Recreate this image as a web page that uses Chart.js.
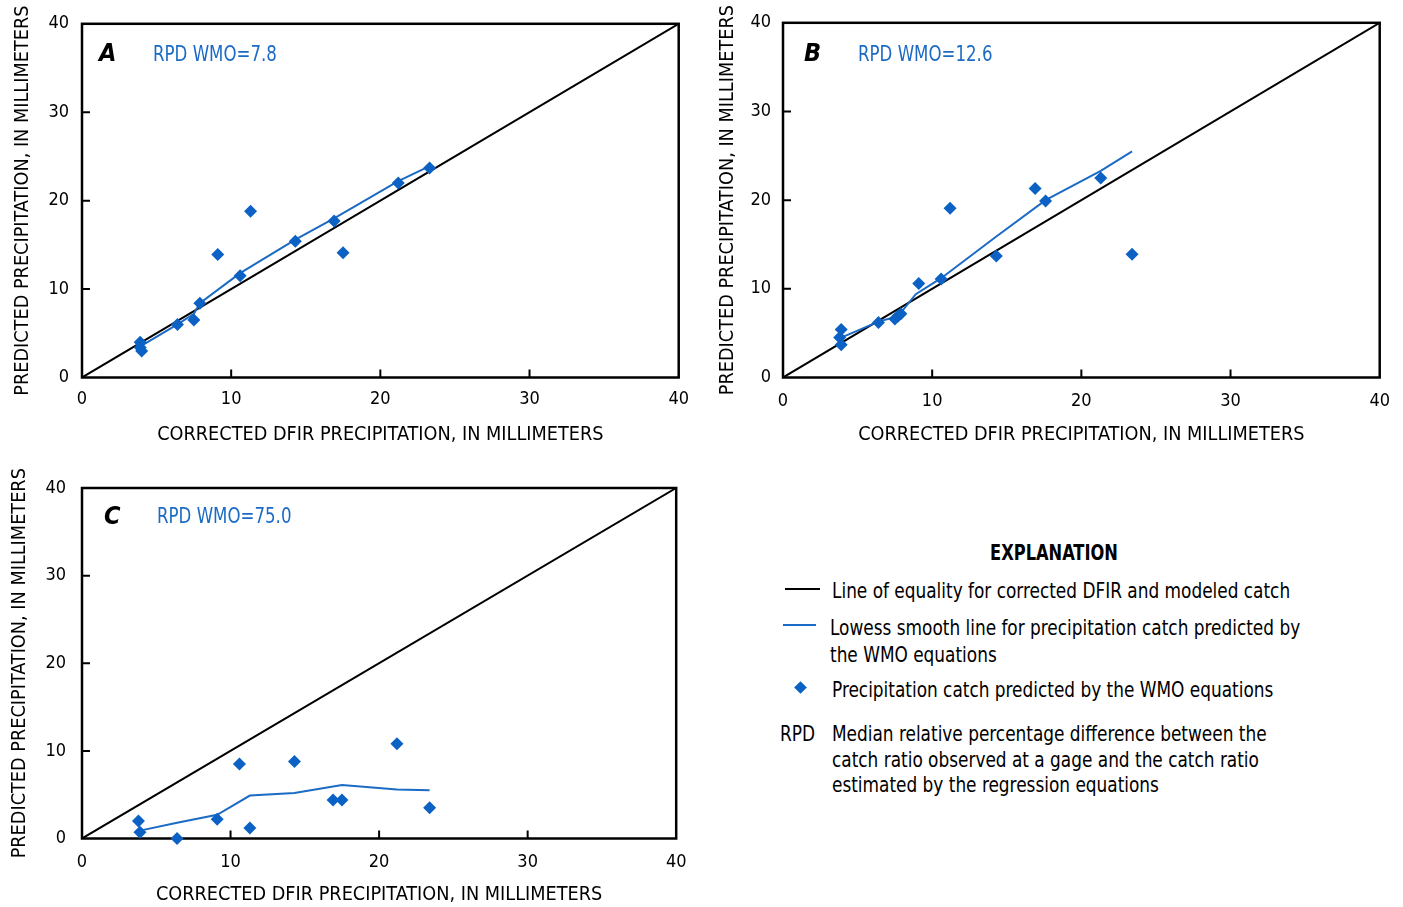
<!DOCTYPE html>
<html>
<head>
<meta charset="utf-8">
<script src="https://cdn.jsdelivr.net/npm/chart.js@4.4.1/dist/chart.umd.min.js"></script>
<style>
  body { margin: 0; background: #fff; }
  #page { position: relative; width: 1403px; height: 907px; overflow: hidden;
          font-family: 'DejaVu Sans Condensed', 'DejaVu Sans', sans-serif; color: #000; }
  canvas { position: absolute; }
  .abs { position: absolute; white-space: nowrap; }
  .sq { transform-origin: 0 50%; }
  .letter { font-size: 25px; font-weight: bold; font-style: italic; line-height: 30px; }
  .rpd { font-size: 21px; color: #1b6bc4; line-height: 26px; transform: scaleX(0.88); }
  .expl { font-size: 21px; transform: scaleX(0.896); }
</style>
</head>
<body>
<div id="page">
  <canvas id="chartA" width="700" height="460" style="left:0;top:0"></canvas>
  <canvas id="chartB" width="701" height="460" style="left:702px;top:0"></canvas>
  <canvas id="chartC" width="700" height="455" style="left:0;top:460px"></canvas>

  <div class="abs letter" style="left:99px;top:38px">A</div>
  <div class="abs rpd sq" style="left:153px;top:41px">RPD WMO=7.8</div>
  <div class="abs letter" style="left:804px;top:38px">B</div>
  <div class="abs rpd sq" style="left:858px;top:41px">RPD WMO=12.6</div>
  <div class="abs letter" style="left:104px;top:501px">C</div>
  <div class="abs rpd sq" style="left:157px;top:503px">RPD WMO=75.0</div>

  <!-- explanation -->
  <div class="abs" style="left:954px;top:540px;width:200px;text-align:center;font-size:21px;font-weight:bold;line-height:26px;transform:scaleX(0.86)">EXPLANATION</div>
  <div class="abs" style="left:785px;top:588px;width:35px;height:2px;background:#000"></div>
  <div class="abs expl sq" style="left:832px;top:578px;line-height:26px">Line of equality for corrected DFIR and modeled catch</div>
  <div class="abs" style="left:783px;top:624px;width:33px;height:2px;background:#1b6bc4"></div>
  <div class="abs expl sq" style="left:830px;top:615px;line-height:27px;transform-origin:0 0">Lowess smooth line for precipitation catch predicted by<br>the WMO equations</div>
  <div class="abs" style="left:796px;top:683px;width:9px;height:9px;background:#0b62c4;transform:rotate(45deg)"></div>
  <div class="abs expl sq" style="left:832px;top:677px;line-height:26px">Precipitation catch predicted by the WMO equations</div>
  <div class="abs expl sq" style="left:780px;top:721px;line-height:26px">RPD</div>
  <div class="abs expl sq" style="left:832px;top:722px;line-height:25.5px;transform-origin:0 0">Median relative percentage difference between the<br>catch ratio observed at a gage and the catch ratio<br>estimated by the regression equations</div>
</div>

<script>
// axis ticks (both axes, all panels)
const tickValues = [0, 10, 20, 30, 40];
const equalityLine = [0, 40];

// panel A - measured points
const pointsA_x = [3.9, 4.0, 3.9, 6.4, 7.5, 7.9, 9.1, 10.6, 11.3, 14.3, 16.9, 17.5, 21.2, 23.3];
const pointsA_y = [4.0, 3.0, 3.4, 6.0, 6.5, 8.4, 13.9, 11.5, 18.8, 15.4, 17.7, 14.1, 22.0, 23.7];
const lowessA_x = [3.8, 6.4, 7.5, 7.9, 10.6, 14.3, 16.9, 21.2, 23.3];
const lowessA_y = [3.4, 6.0, 7.2, 8.4, 11.8, 15.6, 18.0, 22.2, 23.9];

// panel B
const pointsB_x = [3.9, 3.8, 3.9, 6.4, 7.5, 7.7, 7.9, 9.1, 10.6, 11.2, 14.3, 16.9, 17.6, 21.3, 23.4];
const pointsB_y = [5.4, 4.5, 3.7, 6.2, 6.6, 6.9, 7.2, 10.6, 11.1, 19.1, 13.7, 21.3, 19.9, 22.5, 13.9];
const lowessB_x = [3.9, 6.4, 7.7, 8.9, 10.6, 14.3, 17.6, 21.3, 23.4];
const lowessB_y = [4.5, 6.3, 6.9, 9.4, 11.2, 15.9, 20.0, 23.3, 25.5];

// panel C
const pointsC_x = [3.8, 3.9, 6.4, 9.1, 10.6, 11.3, 14.3, 16.9, 17.5, 21.2, 23.4];
const pointsC_y = [2.0, 0.7, 0.0, 2.2, 8.5, 1.2, 8.8, 4.4, 4.4, 10.8, 3.5];
const lowessC_x = [3.9, 6.4, 9.1, 11.3, 14.3, 17.5, 21.2, 23.4];
const lowessC_y = [0.9, 1.8, 2.7, 4.9, 5.2, 6.1, 5.6, 5.5];

const BLUE = '#0b62c4';
const LINE_BLUE = '#1b6bc4';
const yTitle = 'PREDICTED PRECIPITATION, IN MILLIMETERS';
const xTitle = 'CORRECTED DFIR PRECIPITATION, IN MILLIMETERS';

Chart.defaults.font.family = "'DejaVu Sans Condensed', 'DejaVu Sans', sans-serif";
Chart.defaults.color = '#000';

// box around the plot + short inward ticks
const framePlugin = {
  id: 'frame',
  beforeDatasetsDraw(chart) {
    const {ctx, chartArea: a, scales} = chart;
    ctx.save();
    ctx.strokeStyle = '#000';
    ctx.lineWidth = 2.5;
    ctx.strokeRect(a.left, a.top, a.right - a.left, a.bottom - a.top);
    ctx.lineWidth = 2;
    ctx.beginPath();
    scales.x.ticks.forEach(t => {
      if (t.value <= 0 || t.value >= 40) return;
      const px = scales.x.getPixelForValue(t.value);
      ctx.moveTo(px, a.bottom);
      ctx.lineTo(px, a.bottom - 8);
    });
    scales.y.ticks.forEach(t => {
      if (t.value <= 0 || t.value >= 40) return;
      const py = scales.y.getPixelForValue(t.value);
      ctx.moveTo(a.left, py);
      ctx.lineTo(a.left + 8, py);
    });
    ctx.stroke();
    ctx.restore();
  }
};

function makePanel(id, g, px, py, lx, ly) {
  const pts = px.map((x, i) => ({x: x, y: py[i]}));
  const low = lx.map((x, i) => ({x: x, y: ly[i]}));
  const eq = equalityLine.map(v => ({x: v, y: v}));
  return new Chart(document.getElementById(id), {
    type: 'scatter',
    data: {
      datasets: [
        { data: pts, pointStyle: 'rectRot', pointRadius: 6.5, backgroundColor: BLUE, borderWidth: 0, order: 0, clip: 10 },
        { data: low, showLine: true, borderColor: LINE_BLUE, borderWidth: 2, pointRadius: 0, order: 1 },
        { data: eq, showLine: true, borderColor: '#000', borderWidth: 2, pointRadius: 0, order: 2 }
      ]
    },
    options: {
      responsive: false,
      animation: false,
      devicePixelRatio: 1,
      layout: { padding: g.pad },
      plugins: { legend: { display: false }, tooltip: { enabled: false } },
      scales: {
        x: {
          type: 'linear', min: 0, max: 40,
          afterBuildTicks: s => { s.ticks = tickValues.map(v => ({value: v})); },
          afterFit: s => { s.height = g.xh; },
          grid: { display: false, drawTicks: false, tickLength: 0 },
          border: { display: false },
          ticks: { font: { size: 18 }, padding: g.xTickPad, maxRotation: 0 },
          title: { display: true, text: xTitle, font: { size: 19.7 }, padding: { top: 0, bottom: g.xTitlePad } }
        },
        y: {
          type: 'linear', min: 0, max: 40,
          afterBuildTicks: s => { s.ticks = tickValues.map(v => ({value: v})); },
          afterFit: s => { s.width = g.yw; },
          grid: { display: false, drawTicks: false, tickLength: 0 },
          border: { display: false },
          ticks: { font: { size: 18 }, padding: g.yTickPad },
          title: { display: true, text: yTitle, font: { size: 19.7 }, padding: { top: g.yTitlePad, bottom: 0 } }
        }
      }
    },
    plugins: [framePlugin]
  });
}

makePanel('chartA', { pad: {top: 22, right: 21, bottom: 0, left: 0}, yw: 82, xh: 82.5,
  xTickPad: 11, yTickPad: 13, xTitlePad: 12.8, yTitlePad: 11 },
  pointsA_x, pointsA_y, lowessA_x, lowessA_y);

makePanel('chartB', { pad: {top: 22, right: 23, bottom: 0, left: 0}, yw: 81, xh: 82.5,
  xTickPad: 13, yTickPad: 12, xTitlePad: 12.8, yTitlePad: 14.5 },
  pointsB_x, pointsB_y, lowessB_x, lowessB_y);

makePanel('chartC', { pad: {top: 28, right: 21, bottom: 0, left: 0}, yw: 82, xh: 76.5,
  xTickPad: 13.5, yTickPad: 16, xTitlePad: 7.8, yTitlePad: 8.2 },
  pointsC_x, pointsC_y, lowessC_x, lowessC_y);
</script>
</body>
</html>
